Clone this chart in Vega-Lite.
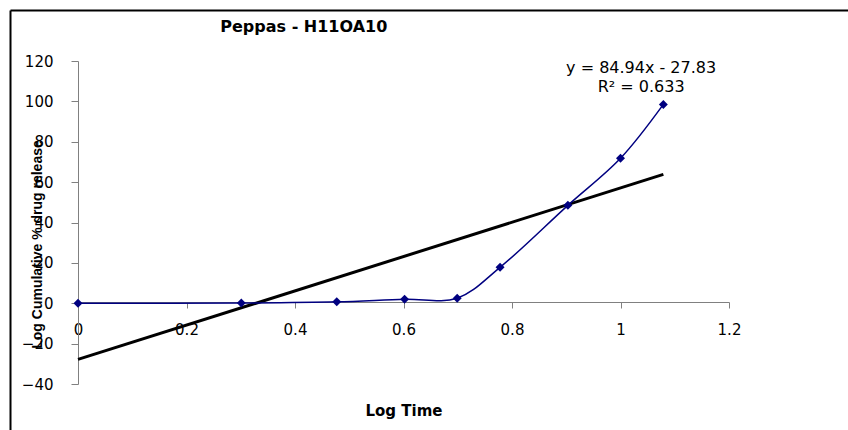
{
  "$schema": "https://vega.github.io/schema/vega-lite/v6.json",
  "width": 838,
  "height": 420,
  "autosize": {"type": "none"},
  "padding": {"left": 10, "top": 10, "right": 0, "bottom": 0},
  "background": "white",
  "config": {"view": {"stroke": null}, "font": "DejaVu Sans"},
  "title": {
    "text": "Peppas - H11OA10",
    "anchor": "start",
    "font": "DejaVu Sans",
    "fontSize": 16,
    "fontWeight": "bold",
    "color": "black",
    "baseline": "middle",
    "offset": 0,
    "dx": 213,
    "dy": 33
  },
  "datasets": {
    "release": [
      {"t": 0, "r": 0},
      {"t": 0.301, "r": 0.1},
      {"t": 0.477, "r": 0.7},
      {"t": 0.602, "r": 2},
      {"t": 0.699, "r": 2.5},
      {"t": 0.778, "r": 17.8},
      {"t": 0.903, "r": 48.5},
      {"t": 1.0, "r": 71.8},
      {"t": 1.079, "r": 98.5}
    ],
    "trend": [
      {"t": 0, "r": -27.83},
      {"t": 1.079, "r": 63.82}
    ],
    "eq": [
      {"t": 1.038, "r": 116.6, "label": "y = 84.94x - 27.83"},
      {"t": 1.038, "r": 106.9, "label": "R² = 0.633"}
    ]
  },
  "layer": [
    {
      "layer": [
        {
          "data": {"name": "trend"},
          "mark": {"type": "line", "color": "black", "strokeWidth": 3},
          "encoding": {
            "x": {
              "field": "t", "type": "quantitative",
              "scale": {"domain": [0, 1.2], "range": [68, 719], "nice": false, "zero": false},
              "axis": {
                "orient": "bottom", "offset": -128,
                "values": [0, 0.2, 0.4, 0.6, 0.8, 1, 1.2], "format": "~g",
                "domainColor": "#808080", "domainWidth": 1,
                "tickColor": "#808080", "tickSize": 6, "tickWidth": 1,
                "labelPadding": 14, "labelFont": "DejaVu Sans", "labelFontSize": 15, "labelColor": "black",
                "labelFlush": false, "labelOverlap": false, "grid": false,
                "title": "Log Time", "titleFont": "DejaVu Sans", "titleFontSize": 15, "titleFontWeight": "bold",
                "titleColor": "black", "titleY": 108, "titleBaseline": "middle"
              }
            },
            "y": {
              "field": "r", "type": "quantitative",
              "scale": {"domain": [-40, 120], "range": [374, 51], "nice": false, "zero": false},
              "axis": {
                "orient": "left", "offset": -68,
                "values": [-40, -20, 0, 20, 40, 60, 80, 100, 120],
                "domainColor": "#808080", "domainWidth": 1,
                "tickColor": "#808080", "tickSize": 7, "tickWidth": 1,
                "labelPadding": 18, "labelFont": "DejaVu Sans", "labelFontSize": 15, "labelColor": "black",
                "labelFlush": false, "labelOverlap": false, "grid": false,
                "title": "Log Cumulative % drug release", "titleFont": "Liberation Sans", "titleFontSize": 14,
                "titleFontWeight": "bold", "titleColor": "black",
                "titleX": -41, "titleY": 234, "titleAngle": -90, "titleAlign": "center", "titleBaseline": "middle"
              }
            }
          }
        },
        {
          "data": {"name": "release"},
          "mark": {
            "type": "line", "interpolate": "catmull-rom", "color": "#000080", "strokeWidth": 1.5,
            "point": {"shape": "diamond", "filled": true, "size": 80, "color": "#000080"}
          },
          "encoding": {
            "x": {"field": "t", "type": "quantitative"},
            "y": {"field": "r", "type": "quantitative"}
          }
        },
        {
          "data": {"name": "eq"},
          "mark": {"type": "text", "font": "DejaVu Sans", "fontSize": 16, "color": "black", "align": "center", "baseline": "middle"},
          "encoding": {
            "x": {"field": "t", "type": "quantitative"},
            "y": {"field": "r", "type": "quantitative"},
            "text": {"field": "label"}
          }
        }
      ]
    },
    {
      "data": {"name": "release"},
      "mark": {"type": "point", "opacity": 0},
      "encoding": {
        "x": {
          "field": "t", "type": "quantitative",
          "scale": {"domain": [0, 1.2], "nice": false, "zero": false},
          "axis": {"orient": "top", "domain": true, "domainColor": "black", "domainWidth": 2,
                   "ticks": false, "labels": false, "title": null, "grid": false}
        },
        "y": {
          "field": "r", "type": "quantitative",
          "scale": {"domain": [-40, 120], "nice": false, "zero": false},
          "axis": {"orient": "left", "domain": true, "domainColor": "black", "domainWidth": 2,
                   "ticks": false, "labels": false, "title": null, "grid": false}
        }
      }
    }
  ],
  "resolve": {
    "scale": {"x": "independent", "y": "independent"},
    "axis": {"x": "independent", "y": "independent"}
  }
}
